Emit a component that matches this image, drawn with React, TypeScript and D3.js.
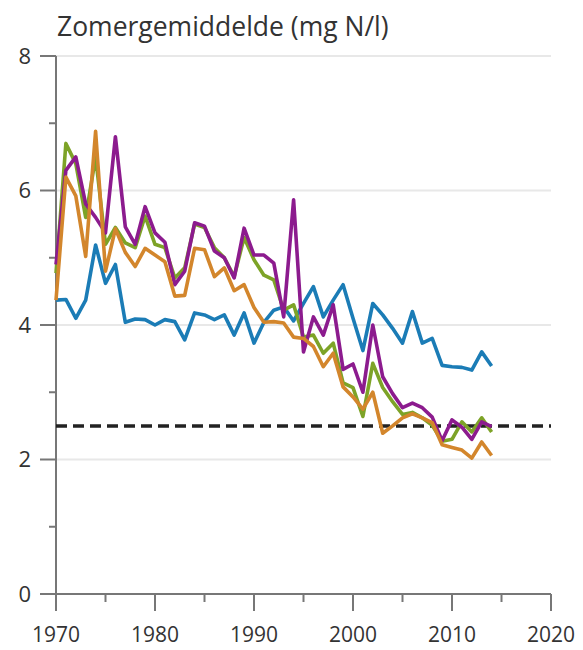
import React, { useRef, useEffect } from 'react';
import * as d3 from 'd3';

const years = d3.range(1970, 2015);

const blue = [4.37, 4.38, 4.1, 4.37, 5.19, 4.62, 4.9, 4.04, 4.09, 4.08, 4.0, 4.08, 4.05, 3.78, 4.18, 4.15, 4.08, 4.15, 3.85, 4.18,
  3.73, 4.04, 4.22, 4.27, 4.06, 4.32, 4.57, 4.12, 4.37, 4.6, 4.1, 3.62, 4.32, 4.15, 3.95, 3.73, 4.2, 3.73, 3.8, 3.4,
  3.38, 3.37, 3.33, 3.6, 3.39];
const green = [4.77, 6.7, 6.4, 5.6, 6.5, 5.2, 5.45, 5.22, 5.15, 5.62, 5.2, 5.15, 4.7, 4.85, 5.5, 5.45, 5.15, 5.0, 4.72, 5.3,
  4.97, 4.74, 4.67, 4.22, 4.3, 3.82, 3.85, 3.58, 3.73, 3.14, 3.07, 2.64, 3.43, 3.07, 2.86, 2.67, 2.7, 2.62, 2.51, 2.27,
  2.3, 2.56, 2.41, 2.62, 2.41];
const purple = [4.9, 6.3, 6.5, 5.8, 5.6, 5.37, 6.8, 5.46, 5.2, 5.76, 5.37, 5.23, 4.6, 4.8, 5.52, 5.47, 5.1, 5.0, 4.7, 5.44,
  5.04, 5.04, 4.92, 4.12, 5.86, 3.6, 4.12, 3.85, 4.3, 3.34, 3.42, 3.0, 4.0, 3.23, 2.98, 2.77, 2.84, 2.77, 2.63, 2.28,
  2.59, 2.48, 2.3, 2.56, 2.49];
const orange = [4.37, 6.2, 5.92, 5.02, 6.88, 4.8, 5.43, 5.08, 4.87, 5.14, 5.04, 4.94, 4.43, 4.44, 5.14, 5.12, 4.72, 4.85, 4.51, 4.6,
  4.26, 4.04, 4.05, 4.03, 3.82, 3.8, 3.68, 3.38, 3.58, 3.08, 2.93, 2.75, 3.0, 2.39, 2.5, 2.62, 2.68, 2.62, 2.55, 2.22,
  2.18, 2.14, 2.02, 2.26, 2.06];

const norm = 2.5;
const xMajor = [1970, 1980, 1990, 2000, 2010, 2020];
const xMinor = [1975, 1985, 1995, 2005, 2015];
const yMajor = [0, 2, 4, 6, 8];
const yMinor = [1, 3, 5, 7];

const series = [
  { name: 'blue', values: blue, color: '#1b7cb6' },
  { name: 'green', values: green, color: '#7da327' },
  { name: 'purple', values: purple, color: '#8c1b8e' },
  { name: 'orange', values: orange, color: '#d3862c' },
];

const App = () => {
  const ref = useRef<SVGSVGElement>(null);

  useEffect(() => {
    const width = 583;
    const height = 650;
    const font = "'Open Sans', 'Noto Sans', sans-serif";

    d3.select(ref.current).selectAll('*').remove();
    const svg = d3.select(ref.current)
      .attr('width', width)
      .attr('height', height);

    const x = d3.scaleLinear().domain([1970, 2020]).range([56, 551]);
    const y = d3.scaleLinear().domain([0, 8]).range([594, 56]);

    // gridlines
    svg.append('g')
      .selectAll('line')
      .data(yMajor.filter(d => d > 0))
      .enter()
      .append('line')
      .attr('x1', x(1970))
      .attr('x2', x(2020))
      .attr('y1', d => y(d))
      .attr('y2', d => y(d))
      .attr('stroke', '#e8e8e8')
      .attr('stroke-width', 2);

    // y ticks
    svg.append('g')
      .selectAll('line')
      .data(yMajor)
      .enter()
      .append('line')
      .attr('x1', 40)
      .attr('x2', x(1970))
      .attr('y1', d => y(d))
      .attr('y2', d => y(d))
      .attr('stroke', '#777')
      .attr('stroke-width', 2);
    svg.append('g')
      .selectAll('line')
      .data(yMinor)
      .enter()
      .append('line')
      .attr('x1', 49)
      .attr('x2', x(1970))
      .attr('y1', d => y(d))
      .attr('y2', d => y(d))
      .attr('stroke', '#777')
      .attr('stroke-width', 2);

    svg.append('g')
      .selectAll('text')
      .data(yMajor)
      .enter()
      .append('text')
      .attr('x', 31)
      .attr('y', d => y(d))
      .attr('dy', '0.35em')
      .attr('text-anchor', 'end')
      .style('font-family', font)
      .style('font-size', '22px')
      .attr('fill', '#333')
      .text(d => d);

    // x ticks
    svg.append('g')
      .selectAll('line')
      .data(xMajor)
      .enter()
      .append('line')
      .attr('x1', d => x(d))
      .attr('x2', d => x(d))
      .attr('y1', y(0))
      .attr('y2', y(0) + 17)
      .attr('stroke', '#777')
      .attr('stroke-width', 2);
    svg.append('g')
      .selectAll('line')
      .data(xMinor)
      .enter()
      .append('line')
      .attr('x1', d => x(d))
      .attr('x2', d => x(d))
      .attr('y1', y(0))
      .attr('y2', y(0) + 8)
      .attr('stroke', '#777')
      .attr('stroke-width', 2);

    svg.append('g')
      .selectAll('text')
      .data(xMajor)
      .enter()
      .append('text')
      .attr('x', d => x(d))
      .attr('y', 642)
      .attr('text-anchor', 'middle')
      .style('font-family', font)
      .style('font-size', '21px')
      .attr('fill', '#333')
      .text(d => d);

    // axis lines
    svg.append('line')
      .attr('x1', x(1970)).attr('x2', x(1970))
      .attr('y1', y(8)).attr('y2', y(0) + 17)
      .attr('stroke', '#777').attr('stroke-width', 2);
    svg.append('line')
      .attr('x1', 40).attr('x2', x(2020))
      .attr('y1', y(0)).attr('y2', y(0))
      .attr('stroke', '#777').attr('stroke-width', 2);

    // norm line
    svg.append('line')
      .attr('x1', x(1970)).attr('x2', x(2020))
      .attr('y1', y(norm)).attr('y2', y(norm))
      .attr('stroke', '#222')
      .attr('stroke-width', 3.5)
      .attr('stroke-dasharray', '11,6');

    const line = d3.line<number>()
      .x((d, i) => x(years[i]))
      .y(d => y(d));

    series.forEach(s => {
      svg.append('path')
        .datum(s.values)
        .attr('d', line)
        .attr('fill', 'none')
        .attr('stroke', s.color)
        .attr('stroke-width', 3.6)
        .attr('stroke-linejoin', 'round');
    });

    // title
    svg.append('text')
      .attr('x', 57)
      .attr('y', 36)
      .style('font-family', font)
      .style('font-size', '26.5px')
      .attr('fill', '#333')
      .text('Zomergemiddelde (mg N/l)');
  }, []);

  return (
    <svg ref={ref} style={{ position: 'absolute', left: 0, top: 0 }}></svg>
  );
};

export default App;
